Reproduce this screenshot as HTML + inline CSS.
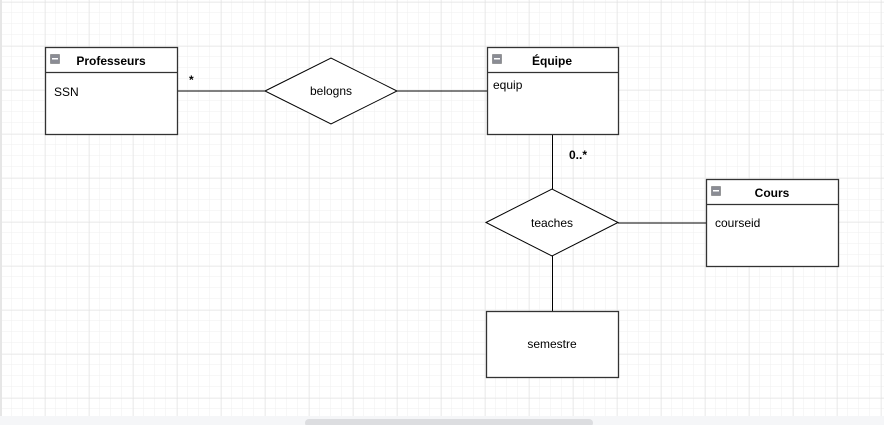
<!DOCTYPE html>
<html><head><style>
html,body{margin:0;padding:0;width:884px;height:425px;overflow:hidden;background:#fff}
svg{display:block}
text{font-family:"Liberation Sans",Arial,sans-serif;font-size:12px;fill:#000}
</style></head><body>
<svg width="884" height="425" viewBox="0 0 884 425">
<defs>
<pattern id="minor" x="1" y="2" width="11" height="11" patternUnits="userSpaceOnUse">
<path d="M11 0V11M0 11H11" fill="none" stroke="#efefef" stroke-width="1"/>
</pattern>
<pattern id="major" x="1.5" y="2.5" width="44" height="44" patternUnits="userSpaceOnUse">
<path d="M0 0V44M0 0H44" fill="none" stroke="#e0e0e0" stroke-width="1"/>
</pattern>
</defs>
<rect width="884" height="425" fill="url(#minor)"/>
<rect width="884" height="425" fill="url(#major)"/>
<rect x="0" y="0" width="2" height="425" fill="#e6e6e6"/>
<rect x="0" y="416" width="884" height="9" fill="#f5f6f8"/>
<rect x="305" y="419" width="288" height="8" rx="4" fill="#dcdde0"/>

<g stroke="#000" stroke-width="1" fill="none">
<line x1="177" y1="91" x2="265" y2="91"/>
<line x1="397" y1="91" x2="487" y2="91"/>
<line x1="552.5" y1="134" x2="552.5" y2="189"/>
<line x1="618" y1="223" x2="706" y2="223"/>
<line x1="552.5" y1="256" x2="552.5" y2="311"/>
</g>

<g stroke="#333" stroke-width="1.3" fill="#fff">
<rect x="45.5" y="47.5" width="132" height="87"/>
<line x1="45.5" y1="72.5" x2="177.5" y2="72.5"/>
<rect x="487.5" y="47.5" width="131" height="87"/>
<line x1="487.5" y1="72.5" x2="618.5" y2="72.5"/>
<rect x="706.5" y="179.5" width="132" height="87"/>
<line x1="706.5" y1="204.5" x2="838.5" y2="204.5"/>
<rect x="486.5" y="311.5" width="132" height="66"/>
</g>
<g stroke="#000" stroke-width="1" fill="#fff">
<polygon points="265,91 331,58 397,91 331,124"/>
<polygon points="486,222.5 552,189 618,222.5 552,256"/>
</g>

<g fill="#8a8c94" stroke="#666" stroke-width="0.5">
<rect x="50.5" y="54.5" width="9" height="9"/>
<rect x="492.5" y="54.5" width="9" height="9"/>
<rect x="711.5" y="186.5" width="9" height="9"/>
</g>
<g fill="#fff"><rect x="52" y="58" width="6" height="1.5"/><rect x="494" y="58" width="6" height="1.5"/><rect x="713" y="190" width="6" height="1.5"/></g>

<text x="111" y="65" text-anchor="middle" font-weight="bold" font-size="13">Professeurs</text>
<text x="54" y="96" font-size="12.5">SSN</text>
<text x="552" y="65" text-anchor="middle" font-weight="bold" font-size="13">Équipe</text>
<text x="493" y="89" font-size="12.5">equip</text>
<text x="772" y="197" text-anchor="middle" font-weight="bold" font-size="13">Cours</text>
<text x="715" y="227" font-size="12.5">courseid</text>
<text x="331" y="95" text-anchor="middle" font-size="12.5">belogns</text>
<text x="552" y="227" text-anchor="middle" font-size="12.5">teaches</text>
<text x="552" y="348" text-anchor="middle" font-size="12.5">semestre</text>
<text x="189" y="84" font-weight="bold" font-size="15">*</text>
<text x="569" y="159" font-weight="bold" font-size="15">0..*</text>
</svg>
</body></html>
